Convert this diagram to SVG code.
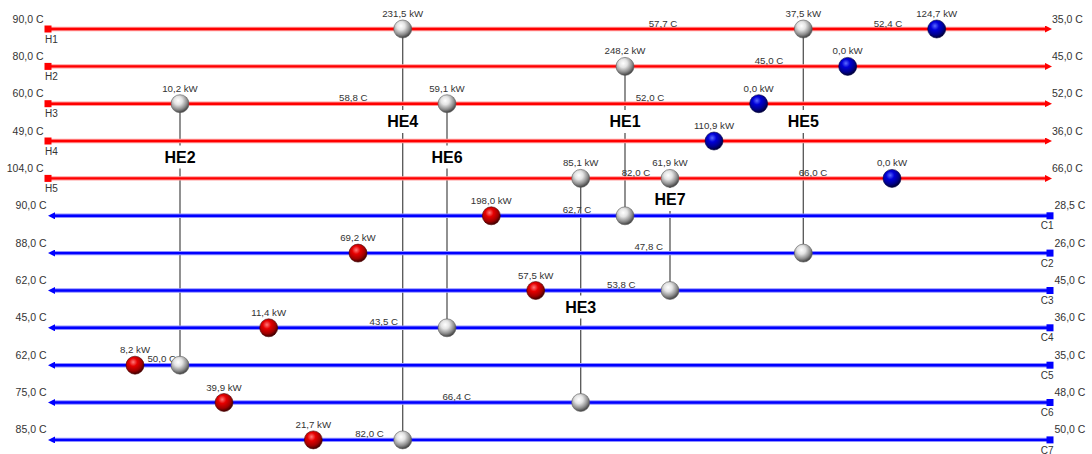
<svg xmlns="http://www.w3.org/2000/svg" width="1092" height="454" viewBox="0 0 1092 454">
  <style>
    text { font-family: "Liberation Sans", Arial, sans-serif; fill: #333; }
    .end { font-size: 10.5px; }
    .name { font-size: 10px; }
    .val { font-size: 9.7px; text-anchor: middle; }
    .he { font-size: 16px; font-weight: bold; fill: #000; text-anchor: middle; }
    .r { text-anchor: end; }
    .link { stroke: #555; stroke-width: 1.3; fill: none; }
    .hotEdge { stroke: #ff9a9a; stroke-width: 4.4; }
    .hotCore { stroke: #ff0000; stroke-width: 2.4; }
    .coldEdge { stroke: #8f8fff; stroke-width: 4.4; }
    .coldCore { stroke: #0000ff; stroke-width: 2.4; }
    .ex { fill: url(#gGray); stroke: #5a5a5a; stroke-width: 0.6; }
    .heat { fill: url(#gRed); stroke: #4a0000; stroke-width: 0.6; }
    .cool { fill: url(#gBlue); stroke: #000040; stroke-width: 0.6; }
    .bg { fill: #fff; }
  </style>
  <defs>
    <radialGradient id="gGray" cx="40%" cy="33%" r="65%">
      <stop offset="0" stop-color="#ffffff"/>
      <stop offset="0.35" stop-color="#e4e4e4"/>
      <stop offset="0.75" stop-color="#8e8e8e"/>
      <stop offset="1" stop-color="#4a4a4a"/>
    </radialGradient>
    <radialGradient id="gRed" cx="40%" cy="33%" r="65%">
      <stop offset="0" stop-color="#ff7a7a"/>
      <stop offset="0.35" stop-color="#e60000"/>
      <stop offset="0.75" stop-color="#a00000"/>
      <stop offset="1" stop-color="#4a0000"/>
    </radialGradient>
    <radialGradient id="gBlue" cx="40%" cy="33%" r="65%">
      <stop offset="0" stop-color="#5a6aff"/>
      <stop offset="0.35" stop-color="#0000d8"/>
      <stop offset="0.75" stop-color="#00008c"/>
      <stop offset="1" stop-color="#000040"/>
    </radialGradient>
    <marker id="arrHot" markerUnits="userSpaceOnUse" markerWidth="7" markerHeight="7" refX="0" refY="3.5" orient="auto">
      <path d="M0,0 L7,3.5 L0,7 z" fill="#ff0000"/>
    </marker>
    <marker id="arrCold" markerUnits="userSpaceOnUse" markerWidth="7" markerHeight="7" refX="0" refY="3.5" orient="auto">
      <path d="M0,0 L7,3.5 L0,7 z" fill="#0000ff"/>
    </marker>
  </defs>

  <!-- exchanger links between hot and cold streams -->
  <g id="connectors">
    <line class="link" x1="625" y1="66.4" x2="625" y2="215.8"/>
    <line class="link" x1="180" y1="103.7" x2="180" y2="365.2"/>
    <line class="link" x1="580.7" y1="178.4" x2="580.7" y2="402.5"/>
    <line class="link" x1="402.7" y1="29" x2="402.7" y2="439.9"/>
    <line class="link" x1="803.3" y1="29" x2="803.3" y2="253.1"/>
    <line class="link" x1="447" y1="103.7" x2="447" y2="327.8"/>
    <line class="link" x1="670" y1="178.4" x2="670" y2="290.5"/>
  </g>

  <!-- hot streams -->
  <g id="H1">
    <line class="hotEdge" x1="48" y1="29" x2="1045" y2="29"/>
    <line class="hotCore" x1="48" y1="29" x2="1045" y2="29" marker-end="url(#arrHot)"/>
    <rect x="44.5" y="25.5" width="7" height="7" fill="#ff0000"/>
    <text class="end r" x="43.5" y="22.5">90,0 C</text>
    <text class="name" x="45" y="42.7">H1</text>
    <text class="end" x="1052" y="22.5">35,0 C</text>
  </g>
  <g id="H2">
    <line class="hotEdge" x1="48" y1="66.4" x2="1045" y2="66.4"/>
    <line class="hotCore" x1="48" y1="66.4" x2="1045" y2="66.4" marker-end="url(#arrHot)"/>
    <rect x="44.5" y="62.9" width="7" height="7" fill="#ff0000"/>
    <text class="end r" x="43.5" y="59.9">80,0 C</text>
    <text class="name" x="45" y="80.1">H2</text>
    <text class="end" x="1052" y="59.9">45,0 C</text>
  </g>
  <g id="H3">
    <line class="hotEdge" x1="48" y1="103.7" x2="1045" y2="103.7"/>
    <line class="hotCore" x1="48" y1="103.7" x2="1045" y2="103.7" marker-end="url(#arrHot)"/>
    <rect x="44.5" y="100.2" width="7" height="7" fill="#ff0000"/>
    <text class="end r" x="43.5" y="97.2">60,0 C</text>
    <text class="name" x="45" y="117.4">H3</text>
    <text class="end" x="1052" y="97.2">52,0 C</text>
  </g>
  <g id="H4">
    <line class="hotEdge" x1="48" y1="141" x2="1045" y2="141"/>
    <line class="hotCore" x1="48" y1="141" x2="1045" y2="141" marker-end="url(#arrHot)"/>
    <rect x="44.5" y="137.5" width="7" height="7" fill="#ff0000"/>
    <text class="end r" x="43.5" y="134.5">49,0 C</text>
    <text class="name" x="45" y="154.7">H4</text>
    <text class="end" x="1052" y="134.5">36,0 C</text>
  </g>
  <g id="H5">
    <line class="hotEdge" x1="48" y1="178.4" x2="1045" y2="178.4"/>
    <line class="hotCore" x1="48" y1="178.4" x2="1045" y2="178.4" marker-end="url(#arrHot)"/>
    <rect x="44.5" y="174.9" width="7" height="7" fill="#ff0000"/>
    <text class="end r" x="43.5" y="171.9">104,0 C</text>
    <text class="name" x="45" y="192.1">H5</text>
    <text class="end" x="1052" y="171.9">66,0 C</text>
  </g>

  <!-- cold streams -->
  <g id="C1">
    <line class="coldEdge" x1="1050" y1="215.8" x2="55" y2="215.8"/>
    <line class="coldCore" x1="1050" y1="215.8" x2="55" y2="215.8" marker-end="url(#arrCold)"/>
    <rect x="1046.5" y="212.3" width="7" height="7" fill="#0000ff"/>
    <text class="end r" x="46.5" y="209.3">90,0 C</text>
    <text class="end" x="1054.5" y="209.3">28,5 C</text>
    <text class="name" x="1040.7" y="229.4">C1</text>
  </g>
  <g id="C2">
    <line class="coldEdge" x1="1050" y1="253.1" x2="55" y2="253.1"/>
    <line class="coldCore" x1="1050" y1="253.1" x2="55" y2="253.1" marker-end="url(#arrCold)"/>
    <rect x="1046.5" y="249.6" width="7" height="7" fill="#0000ff"/>
    <text class="end r" x="46.5" y="246.6">88,0 C</text>
    <text class="end" x="1054.5" y="246.6">26,0 C</text>
    <text class="name" x="1040.7" y="266.7">C2</text>
  </g>
  <g id="C3">
    <line class="coldEdge" x1="1050" y1="290.5" x2="55" y2="290.5"/>
    <line class="coldCore" x1="1050" y1="290.5" x2="55" y2="290.5" marker-end="url(#arrCold)"/>
    <rect x="1046.5" y="287" width="7" height="7" fill="#0000ff"/>
    <text class="end r" x="46.5" y="284">62,0 C</text>
    <text class="end" x="1054.5" y="284">45,0 C</text>
    <text class="name" x="1040.7" y="304.1">C3</text>
  </g>
  <g id="C4">
    <line class="coldEdge" x1="1050" y1="327.8" x2="55" y2="327.8"/>
    <line class="coldCore" x1="1050" y1="327.8" x2="55" y2="327.8" marker-end="url(#arrCold)"/>
    <rect x="1046.5" y="324.3" width="7" height="7" fill="#0000ff"/>
    <text class="end r" x="46.5" y="321.3">45,0 C</text>
    <text class="end" x="1054.5" y="321.3">36,0 C</text>
    <text class="name" x="1040.7" y="341.4">C4</text>
  </g>
  <g id="C5">
    <line class="coldEdge" x1="1050" y1="365.2" x2="55" y2="365.2"/>
    <line class="coldCore" x1="1050" y1="365.2" x2="55" y2="365.2" marker-end="url(#arrCold)"/>
    <rect x="1046.5" y="361.7" width="7" height="7" fill="#0000ff"/>
    <text class="end r" x="46.5" y="358.7">62,0 C</text>
    <text class="end" x="1054.5" y="358.7">35,0 C</text>
    <text class="name" x="1040.7" y="378.8">C5</text>
  </g>
  <g id="C6">
    <line class="coldEdge" x1="1050" y1="402.5" x2="55" y2="402.5"/>
    <line class="coldCore" x1="1050" y1="402.5" x2="55" y2="402.5" marker-end="url(#arrCold)"/>
    <rect x="1046.5" y="399" width="7" height="7" fill="#0000ff"/>
    <text class="end r" x="46.5" y="396">75,0 C</text>
    <text class="end" x="1054.5" y="396">48,0 C</text>
    <text class="name" x="1040.7" y="416.1">C6</text>
  </g>
  <g id="C7">
    <line class="coldEdge" x1="1050" y1="439.9" x2="55" y2="439.9"/>
    <line class="coldCore" x1="1050" y1="439.9" x2="55" y2="439.9" marker-end="url(#arrCold)"/>
    <rect x="1046.5" y="436.4" width="7" height="7" fill="#0000ff"/>
    <text class="end r" x="46.5" y="433.4">85,0 C</text>
    <text class="end" x="1054.5" y="433.4">50,0 C</text>
    <text class="name" x="1040.7" y="453.5">C7</text>
  </g>

  <!-- intermediate stream temperatures -->
  <g id="temperatures">
    <text class="val" x="663" y="26.5">57,7 C</text>
    <text class="val" x="888" y="26.5">52,4 C</text>
    <text class="val" x="769" y="63.5">45,0 C</text>
    <text class="val" x="353.3" y="100.8">58,8 C</text>
    <text class="val" x="650" y="100.8">52,0 C</text>
    <text class="val" x="636" y="175.5">82,0 C</text>
    <text class="val" x="813" y="175.5">66,0 C</text>
    <text class="val" x="577" y="212.9">62,7 C</text>
    <text class="val" x="648.7" y="250.2">47,8 C</text>
    <text class="val" x="621.3" y="287.6">53,8 C</text>
    <text class="val" x="383.8" y="324.9">43,5 C</text>
    <text class="val" x="161.7" y="362.3">50,0 C</text>
    <text class="val" x="456.7" y="399.6">66,4 C</text>
    <text class="val" x="369.5" y="437">82,0 C</text>
  </g>

  <!-- heat exchangers -->
  <g id="HE1">
    <circle class="ex" cx="625" cy="66.4" r="9"/>
    <circle class="ex" cx="625" cy="215.8" r="9"/>
    <text class="val" x="625" y="54.4">248,2 kW</text>
    <rect class="bg" x="607" y="110" width="36" height="23"/>
    <text class="he" x="625" y="127">HE1</text>
  </g>
  <g id="HE2">
    <circle class="ex" cx="180" cy="103.7" r="9"/>
    <circle class="ex" cx="180" cy="365.2" r="9"/>
    <text class="val" x="180" y="91.7">10,2 kW</text>
    <rect class="bg" x="162" y="145.5" width="36" height="23"/>
    <text class="he" x="180" y="162.5">HE2</text>
  </g>
  <g id="HE3">
    <circle class="ex" cx="580.7" cy="178.4" r="9"/>
    <circle class="ex" cx="580.7" cy="402.5" r="9"/>
    <text class="val" x="580.7" y="166.4">85,1 kW</text>
    <rect class="bg" x="562.7" y="295.5" width="36" height="23"/>
    <text class="he" x="580.7" y="312.5">HE3</text>
  </g>
  <g id="HE4">
    <circle class="ex" cx="402.7" cy="29" r="9"/>
    <circle class="ex" cx="402.7" cy="439.9" r="9"/>
    <text class="val" x="402.7" y="17">231,5 kW</text>
    <rect class="bg" x="384.7" y="110" width="36" height="23"/>
    <text class="he" x="402.7" y="127">HE4</text>
  </g>
  <g id="HE5">
    <circle class="ex" cx="803.3" cy="29" r="9"/>
    <circle class="ex" cx="803.3" cy="253.1" r="9"/>
    <text class="val" x="803.3" y="17">37,5 kW</text>
    <rect class="bg" x="785.3" y="110" width="36" height="23"/>
    <text class="he" x="803.3" y="127">HE5</text>
  </g>
  <g id="HE6">
    <circle class="ex" cx="447" cy="103.7" r="9"/>
    <circle class="ex" cx="447" cy="327.8" r="9"/>
    <text class="val" x="447" y="91.7">59,1 kW</text>
    <rect class="bg" x="429" y="145.5" width="36" height="23"/>
    <text class="he" x="447" y="162.5">HE6</text>
  </g>
  <g id="HE7">
    <circle class="ex" cx="670" cy="178.4" r="9"/>
    <circle class="ex" cx="670" cy="290.5" r="9"/>
    <text class="val" x="670" y="166.4">61,9 kW</text>
    <rect class="bg" x="652" y="188" width="36" height="23"/>
    <text class="he" x="670" y="205">HE7</text>
  </g>

  <!-- coolers on hot streams -->
  <g id="CU1">
    <circle class="cool" cx="936.7" cy="29" r="9"/>
    <text class="val" x="936.7" y="17">124,7 kW</text>
  </g>
  <g id="CU2">
    <circle class="cool" cx="847.7" cy="66.4" r="9"/>
    <text class="val" x="847.7" y="54.4">0,0 kW</text>
  </g>
  <g id="CU3">
    <circle class="cool" cx="758.7" cy="103.7" r="9"/>
    <text class="val" x="758.7" y="91.7">0,0 kW</text>
  </g>
  <g id="CU4">
    <circle class="cool" cx="714" cy="141" r="9"/>
    <text class="val" x="714" y="129">110,9 kW</text>
  </g>
  <g id="CU5">
    <circle class="cool" cx="892" cy="178.4" r="9"/>
    <text class="val" x="892" y="166.4">0,0 kW</text>
  </g>

  <!-- heaters on cold streams -->
  <g id="HU1">
    <circle class="heat" cx="491.3" cy="215.8" r="9"/>
    <text class="val" x="491.3" y="203.8">198,0 kW</text>
  </g>
  <g id="HU2">
    <circle class="heat" cx="358" cy="253.1" r="9"/>
    <text class="val" x="358" y="241.1">69,2 kW</text>
  </g>
  <g id="HU3">
    <circle class="heat" cx="535.7" cy="290.5" r="9"/>
    <text class="val" x="535.7" y="278.5">57,5 kW</text>
  </g>
  <g id="HU4">
    <circle class="heat" cx="268.7" cy="327.8" r="9"/>
    <text class="val" x="268.7" y="315.8">11,4 kW</text>
  </g>
  <g id="HU5">
    <circle class="heat" cx="135" cy="365.2" r="9"/>
    <text class="val" x="135" y="353.2">8,2 kW</text>
  </g>
  <g id="HU6">
    <circle class="heat" cx="224" cy="402.5" r="9"/>
    <text class="val" x="224" y="390.5">39,9 kW</text>
  </g>
  <g id="HU7">
    <circle class="heat" cx="313.3" cy="439.9" r="9"/>
    <text class="val" x="313.3" y="427.9">21,7 kW</text>
  </g>
</svg>
